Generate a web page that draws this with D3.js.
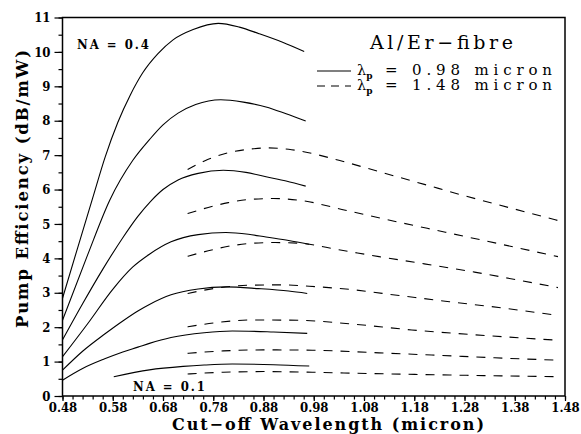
<!DOCTYPE html>
<html>
<head>
<meta charset="utf-8">
<script src="https://cdn.jsdelivr.net/npm/d3@7"></script>
<style>
  body { margin: 0; background: #fff; }
  svg { display: block; }
</style>
</head>
<body>
<div id="chart"></div>
<script>
// tick values
var xTicks = [0.48, 0.58, 0.68, 0.78, 0.88, 0.98, 1.08, 1.18, 1.28, 1.38, 1.48];
var yTicks = [0, 1, 2, 3, 4, 5, 6, 7, 8, 9, 10, 11];

// pump 0.98 micron, NA = 0.4 (top) down to NA = 0.1 (bottom)
var solid1 = [[0.48,2.84],[0.51,4.3],[0.54,5.75],[0.565,6.95],[0.59,7.95],[0.615,8.75],[0.64,9.4],[0.67,9.95],[0.70,10.35],[0.74,10.65],[0.79,10.83],[0.832,10.72],[0.871,10.53],[0.918,10.28],[0.961,10.01]];
var solid2 = [[0.48,2.2],[0.53,4.1],[0.574,5.69],[0.62,6.85],[0.653,7.45],[0.68,7.88],[0.71,8.22],[0.745,8.47],[0.795,8.61],[0.84,8.54],[0.885,8.4],[0.925,8.2],[0.964,7.99]];
var solid3 = [[0.48,1.63],[0.52,2.68],[0.56,3.68],[0.6,4.6],[0.63,5.22],[0.655,5.65],[0.68,6.0],[0.71,6.28],[0.75,6.47],[0.8,6.56],[0.845,6.5],[0.885,6.37],[0.925,6.25],[0.964,6.1]];
var solid4 = [[0.48,1.14],[0.53,2.1],[0.58,3.1],[0.62,3.75],[0.653,4.12],[0.696,4.48],[0.75,4.69],[0.805,4.75],[0.85,4.7],[0.885,4.62],[0.93,4.52],[0.971,4.41]];
var solid5 = [[0.48,0.75],[0.52,1.3],[0.564,1.8],[0.6,2.18],[0.63,2.47],[0.653,2.66],[0.696,2.94],[0.75,3.11],[0.805,3.17],[0.87,3.12],[0.93,3.05],[0.967,2.98]];
var solid6 = [[0.48,0.46],[0.52,0.8],[0.564,1.08],[0.6,1.28],[0.63,1.42],[0.653,1.53],[0.696,1.7],[0.762,1.84],[0.818,1.89],[0.9,1.86],[0.967,1.82]];
var solid7 = [[0.582,0.56],[0.653,0.76],[0.72,0.86],[0.762,0.9],[0.818,0.93],[0.9,0.91],[0.971,0.87]];

// pump 1.48 micron
var dash1 = [[0.729,6.58],[0.77,6.88],[0.81,7.07],[0.85,7.17],[0.89,7.21],[0.93,7.17],[0.96,7.1],[1.03,6.85],[1.11,6.52],[1.2,6.15],[1.28,5.82],[1.37,5.47],[1.466,5.1]];
var dash2 = [[0.729,5.3],[0.77,5.48],[0.81,5.62],[0.85,5.71],[0.9,5.74],[0.951,5.69],[1.043,5.4],[1.14,5.08],[1.242,4.76],[1.35,4.42],[1.466,4.05]];
var dash3 = [[0.729,4.06],[0.77,4.22],[0.81,4.35],[0.85,4.43],[0.9,4.46],[0.951,4.44],[1.03,4.25],[1.11,4.05],[1.2,3.84],[1.3,3.6],[1.39,3.36],[1.466,3.15]];
var dash4 = [[0.729,2.98],[0.78,3.12],[0.85,3.22],[0.92,3.23],[0.971,3.19],[1.05,3.1],[1.15,2.92],[1.25,2.74],[1.36,2.55],[1.466,2.34]];
var dash5 = [[0.729,2.01],[0.79,2.14],[0.86,2.21],[0.95,2.2],[1.05,2.1],[1.175,1.92],[1.3,1.78],[1.466,1.62]];
var dash6 = [[0.729,1.24],[0.8,1.31],[0.88,1.34],[0.977,1.33],[1.1,1.26],[1.215,1.19],[1.34,1.11],[1.466,1.04]];
var dash7 = [[0.729,0.64],[0.8,0.69],[0.88,0.71],[0.977,0.69],[1.1,0.65],[1.25,0.61],[1.466,0.56]];

var solidCurves = [solid1, solid2, solid3, solid4, solid5, solid6, solid7];
var dashCurves = [dash1, dash2, dash3, dash4, dash5, dash6, dash7];

var svg = d3.select("#chart")
    .append("svg")
    .attr("width", 581)
    .attr("height", 434);

var margin = {left: 62.5, top: 17.5};
var width = 502.5, height = 378.5;
var tickFont = "'DejaVu Serif Condensed', 'DejaVu Serif', serif";
var textFont = "'DejaVu Serif', serif";

var xScale = d3.scaleLinear().domain([0.48, 1.48]).range([0, width]);
var yScale = d3.scaleLinear().domain([0, 11]).range([height, 0]);

var g = svg.append("g")
    .attr("transform", "translate(" + margin.left + "," + margin.top + ")");

// minor ticks
var xMinor = d3.range(0, 51).map(function(i) { return +(0.48 + i * 0.02).toFixed(2); });
var yMinor = d3.range(0, 23).map(function(i) { return i * 0.5; });

g.append("g")
    .attr("class", "axis")
    .attr("transform", "translate(0," + height + ")")
    .call(d3.axisBottom(xScale).tickValues(xMinor).tickSize(3.5).tickFormat(""));

g.append("g")
    .attr("class", "axis")
    .call(d3.axisLeft(yScale).tickValues(yMinor).tickSize(4).tickFormat(""));

// major ticks
g.append("g")
    .attr("class", "axis major")
    .attr("transform", "translate(0," + height + ")")
    .call(d3.axisBottom(xScale).tickValues(xTicks).tickSize(5).tickPadding(1.5).tickFormat(d3.format(".2f")));

g.append("g")
    .attr("class", "axis major")
    .call(d3.axisLeft(yScale).tickValues(yTicks).tickSize(8).tickPadding(4).tickFormat(d3.format("d")));

g.selectAll(".axis .domain").remove();
g.selectAll(".axis line").style("stroke", "#000").style("stroke-width", 1.2);
g.selectAll(".axis text")
    .style("font-family", tickFont)
    .style("font-weight", "bold")
    .style("font-size", "13px")
    .style("fill", "#000");

// frame
g.append("rect")
    .attr("x", 0).attr("y", 0)
    .attr("width", width).attr("height", height)
    .style("fill", "none")
    .style("stroke", "#000")
    .style("stroke-width", 1.5);

var line = d3.line()
    .x(function(d) { return xScale(d[0]); })
    .y(function(d) { return yScale(d[1]); })
    .curve(d3.curveMonotoneX);

g.selectAll(".solid")
    .data(solidCurves)
    .enter()
    .append("path")
    .attr("class", "solid")
    .attr("d", line)
    .style("fill", "none")
    .style("stroke", "#000")
    .style("stroke-width", 1.1);

g.selectAll(".dashed")
    .data(dashCurves)
    .enter()
    .append("path")
    .attr("class", "dashed")
    .attr("d", line)
    .style("fill", "none")
    .style("stroke", "#000")
    .style("stroke-width", 1.1)
    .style("stroke-dasharray", "9,8");

// NA labels
svg.append("text")
    .attr("x", 77).attr("y", 49)
    .attr("textLength", 72)
    .attr("lengthAdjust", "spacing")
    .style("font-family", tickFont)
    .style("font-weight", "bold")
    .style("font-size", "13px")
    .text("NA = 0.4");

svg.append("text")
    .attr("x", 133).attr("y", 391)
    .attr("textLength", 72)
    .attr("lengthAdjust", "spacing")
    .style("font-family", tickFont)
    .style("font-weight", "bold")
    .style("font-size", "13px")
    .text("NA = 0.1");

// legend
svg.append("text")
    .attr("x", 370).attr("y", 49)
    .attr("textLength", 143)
    .attr("lengthAdjust", "spacing")
    .style("font-family", textFont)
    .style("font-size", "19px")
    .text("Al/Er\u2212fibre");

var legend = [
    {label: "= 0.98 micron", dash: null, y: 75},
    {label: "= 1.48 micron", dash: "8,6", y: 90}
];

legend.forEach(function(d) {
    svg.append("line")
        .attr("x1", 317).attr("x2", 351)
        .attr("y1", d.y - 4).attr("y2", d.y - 4)
        .style("stroke", "#000")
        .style("stroke-width", 1.1)
        .style("stroke-dasharray", d.dash);
    var lam = svg.append("text")
        .attr("x", 357).attr("y", d.y)
        .style("font-family", textFont)
        .style("font-size", "14.5px");
    lam.append("tspan").text("\u03bb");
    lam.append("tspan")
        .attr("dy", 3.5)
        .style("font-weight", "bold")
        .style("font-size", "9px")
        .text("p");
    svg.append("text")
        .attr("x", 385).attr("y", d.y)
        .attr("textLength", 167)
        .attr("lengthAdjust", "spacing")
        .style("font-family", textFont)
        .style("font-size", "15px")
        .text(d.label);
});

// axis titles
svg.append("text")
    .attr("x", 172).attr("y", 430)
    .attr("textLength", 312)
    .attr("lengthAdjust", "spacing")
    .style("font-family", textFont)
    .style("font-weight", "bold")
    .style("font-size", "16px")
    .text("Cut\u2212off Wavelength (micron)");

svg.append("text")
    .attr("transform", "translate(28,328)rotate(-90)")
    .attr("textLength", 278)
    .attr("lengthAdjust", "spacing")
    .style("font-family", textFont)
    .style("font-weight", "bold")
    .style("font-size", "16.5px")
    .text("Pump Efficiency (dB/mW)");
</script>
</body>
</html>
